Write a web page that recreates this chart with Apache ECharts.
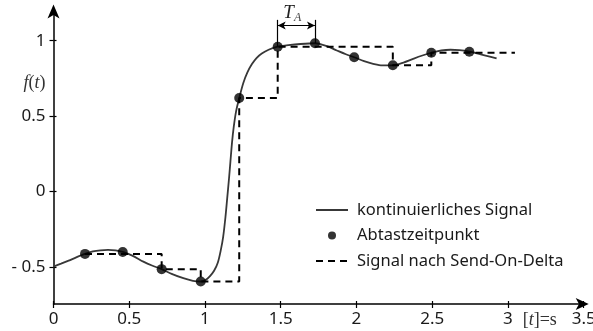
<!DOCTYPE html>
<html>
<head>
<meta charset="utf-8">
<script src="https://cdn.jsdelivr.net/npm/echarts@6/dist/echarts.min.js"></script>
<style>html,body{margin:0;padding:0;background:#fff}#c{width:593px;height:331px}</style>
</head>
<body>
<div id="c"></div>
<script>
// continuous signal (t, f(t))
const curveT = [0.00, 0.05, 0.10, 0.15, 0.208, 0.26, 0.31, 0.36, 0.41, 0.457, 0.52, 0.593, 0.65, 0.714, 0.78, 0.857, 0.92, 0.972, 1.005, 1.033, 1.06, 1.085, 1.105, 1.12, 1.135, 1.147, 1.158, 1.168, 1.178, 1.19, 1.205, 1.226, 1.253, 1.28, 1.31, 1.34, 1.375, 1.42, 1.48, 1.55, 1.63, 1.726, 1.80, 1.87, 1.93, 1.985, 2.05, 2.11, 2.17, 2.24, 2.31, 2.37, 2.43, 2.494, 2.56, 2.62, 2.68, 2.745, 2.82, 2.88, 2.925];
const curveY = [-0.497, -0.478, -0.458, -0.436, -0.413, -0.397, -0.389, -0.386, -0.390, -0.400, -0.424, -0.464, -0.490, -0.514, -0.545, -0.574, -0.591, -0.596, -0.585, -0.560, -0.525, -0.470, -0.385, -0.300, -0.170, -0.040, 0.080, 0.200, 0.320, 0.430, 0.530, 0.620, 0.720, 0.790, 0.845, 0.885, 0.915, 0.940, 0.960, 0.970, 0.978, 0.983, 0.965, 0.935, 0.910, 0.890, 0.865, 0.847, 0.836, 0.837, 0.855, 0.878, 0.900, 0.920, 0.935, 0.940, 0.937, 0.927, 0.910, 0.895, 0.883];
// sampling instants
const sampleT = [0.208, 0.457, 0.714, 0.972, 1.226, 1.48, 1.726, 1.985, 2.24, 2.494, 2.745];
const sampleY = [-0.413, -0.40, -0.514, -0.596, 0.62, 0.96, 0.983, 0.89, 0.837, 0.92, 0.927];
// send-on-delta held values
const sodT = [0.208, 0.714, 0.972, 1.226, 1.48, 2.24, 2.494, 3.046];
const sodY = [-0.413, -0.514, -0.596, 0.62, 0.96, 0.837, 0.92, 0.92];
// ticks
const xTicks = [0, 0.5, 1, 1.5, 2, 2.5, 3, 3.5];
const yTicks = [-0.5, 0, 0.5, 1];
const yTickLabels = ['- 0.5', '0', '0.5', '1'];
// T_A annotation (between two sampling instants)
const taStart = 1.48, taEnd = 1.726, taArrowY = 1.10, taTopY = 1.138;

const names = ['kontinuierliches Signal', 'Abtastzeitpunkt', 'Signal nach Send-On-Delta'];
const zip = (a, b) => a.map((v, i) => [v, b[i]]);
const FONT = 'Noto Sans';
const TXT = '#1a1a1a';

const chart = echarts.init(document.getElementById('c'), null, {renderer: 'canvas'});
const xBase = {type: 'value', min: 0, max: 3.5, interval: 0.5, splitLine: {show: false}, position: 'bottom'};
const yBase = {type: 'value', min: -0.745, max: 1.2, splitLine: {show: false}, position: 'left'};
chart.setOption({
  animation: false,
  grid: {left: 53.5, right: 9.3, top: 10.5, bottom: 27, outerBoundsMode: 'none', containLabel: false},
  xAxis: [
    Object.assign({}, xBase, {
      axisLine: {show: true, onZero: false, lineStyle: {color: '#000', width: 1.5}, symbol: ['none', 'arrow'], symbolSize: [9, 13], symbolOffset: [0, 5]},
      axisTick: {show: true, inside: false, length: 4, lineStyle: {color: '#000', width: 1.2}},
      axisLabel: {show: true, margin: 7, color: TXT, fontFamily: FONT, fontSize: 17,
        formatter: v => (xTicks.indexOf(v) >= 0 ? String(v) : '')},
    }),
    Object.assign({}, xBase, {
      axisLine: {show: false, onZero: false},
      axisTick: {show: true, inside: true, length: 3, lineStyle: {color: '#000', width: 1.2}},
      axisLabel: {show: false}
    })
  ],
  yAxis: [
    Object.assign({}, yBase, {
      axisLine: {show: true, onZero: false, lineStyle: {color: '#000', width: 1.5}, symbol: ['none', 'arrow'], symbolSize: [9, 14], symbolOffset: [0, 6]},
      axisTick: {show: true, inside: false, length: 4, customValues: yTicks, lineStyle: {color: '#000', width: 1.2}},
      axisLabel: {show: true, margin: 8, color: TXT, fontFamily: FONT, fontSize: 17, customValues: yTicks,
        formatter: v => { const i = yTicks.findIndex(t => Math.abs(t - v) < 1e-9); return i >= 0 ? yTickLabels[i] : ''; }},
    }),
    Object.assign({}, yBase, {
      axisLine: {show: false, onZero: false},
      axisTick: {show: true, inside: true, length: 3, customValues: yTicks, lineStyle: {color: '#000', width: 1.2}},
      axisLabel: {show: false}
    })
  ],
  legend: {
    orient: 'vertical', left: 315, top: 201, padding: 0, itemWidth: 32, itemHeight: 8, itemGap: 7.5,
    data: [
      {name: names[0], itemStyle: {opacity: 0}},
      {name: names[1]},
      {name: names[2], itemStyle: {opacity: 0}}
    ],
    textStyle: {fontFamily: FONT, fontSize: 16.5, color: TXT, lineHeight: 18, padding: [0, 0, 0, 4]}
  },
  series: [
    {
      name: names[0], type: 'line', data: zip(curveT, curveY), smooth: 0.3,
      symbol: 'none', lineStyle: {color: '#383838', width: 1.8}, itemStyle: {color: '#383838'}, z: 2,
      markLine: {
        silent: true, symbol: ['arrow', 'arrow'], symbolSize: [6, 8], label: {show: false},
        lineStyle: {color: '#000', width: 1.2, type: 'solid'},
        data: [[{coord: [taStart, taArrowY]}, {coord: [taEnd, taArrowY]}]]
      }
    },
    {
      name: names[1], type: 'scatter', data: zip(sampleT, sampleY), symbol: 'circle', symbolSize: 10,
      itemStyle: {color: '#000'}, z: 4,
      markLine: {
        silent: true, symbol: ['none', 'none'], label: {show: false},
        lineStyle: {color: '#000', width: 1.2, type: 'solid'},
        data: [
          [{coord: [taStart, taTopY]}, {coord: [taStart, sampleY[sampleT.indexOf(taStart)]]}],
          [{coord: [taEnd, taTopY]}, {coord: [taEnd, sampleY[sampleT.indexOf(taEnd)]]}]
        ]
      }
    },
    {
      name: names[2], type: 'line', data: zip(sodT, sodY), step: 'end', symbol: 'none',
      lineStyle: {color: '#000', width: 2, type: [7, 5]}, itemStyle: {color: '#000'}, z: 3
    }
  ]
});

const taMid = chart.convertToPixel({xAxisIndex: 0, yAxisIndex: 0}, [(taStart + taEnd) / 2, taArrowY]);
const tLab = chart.convertToPixel({xAxisIndex: 0, yAxisIndex: 0}, [3.21, -0.745]);
const fLab = chart.convertToPixel({xAxisIndex: 0, yAxisIndex: 0}, [0, 0.72]);
chart.setOption({
  graphic: [
    {type: 'text', left: taMid[0] - 13, top: taMid[1] - 22, silent: true,
      style: {text: '{t|T}{s|A}', rich: {t: {fontFamily: 'Liberation Serif', fontStyle: 'italic', fontSize: 19, fill: '#222'}, s: {fontFamily: 'Liberation Serif', fontStyle: 'italic', fontSize: 12, fill: '#444', padding: [10, 0, 0, 0]}}}},
    {type: 'text', x: tLab[0], y: tLab[1] + 16, silent: true,
      style: {text: '{a|[}{b|t}{a|]=s}', align: 'center', verticalAlign: 'middle', rich: {a: {fontFamily: 'Liberation Serif', fontSize: 18, fill: '#333'}, b: {fontFamily: 'Liberation Serif', fontStyle: 'italic', fontSize: 18, fill: '#333'}}}},
    {type: 'text', x: fLab[0] - 19, y: fLab[1], silent: true,
      style: {text: '{a|f}{b|(}{a|t}{b|)}', align: 'center', verticalAlign: 'middle', rich: {a: {fontFamily: 'Liberation Serif', fontStyle: 'italic', fontSize: 18, fill: '#333'}, b: {fontFamily: 'Liberation Serif', fontSize: 18, fill: '#333'}}}}
  ]
});
</script>
</body>
</html>
